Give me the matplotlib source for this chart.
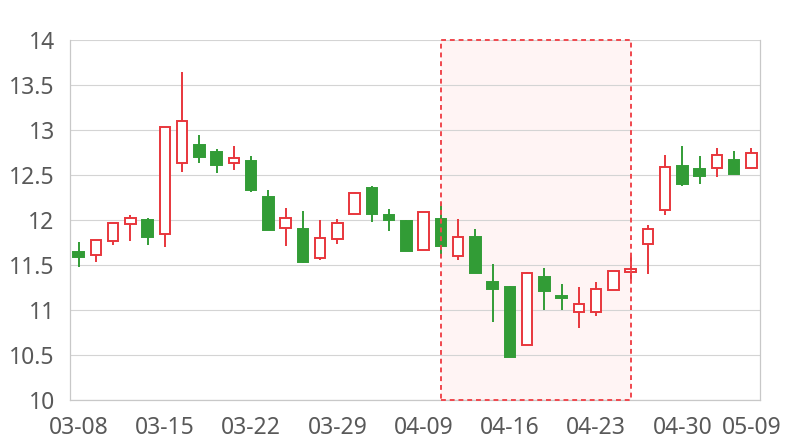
import matplotlib
matplotlib.use("Agg")
import matplotlib.pyplot as plt
import numpy as np
from matplotlib.patches import Rectangle
from matplotlib.ticker import FuncFormatter, MultipleLocator

dates = ["03-08", "03-09", "03-10", "03-11", "03-12",
         "03-15", "03-16", "03-17", "03-18", "03-19",
         "03-22", "03-23", "03-24", "03-25", "03-26",
         "03-29", "03-30", "03-31", "04-01", "04-02",
         "04-09", "04-12", "04-13", "04-14", "04-15",
         "04-16", "04-19", "04-20", "04-21", "04-22",
         "04-23", "04-26", "04-27", "04-28", "04-29",
         "04-30", "05-06", "05-07", "05-08", "05-09"]

open_ = [11.65, 11.61, 11.77, 11.96, 12.00, 11.85, 12.64, 12.84, 12.76, 12.64,
         12.66, 12.26, 11.91, 11.90, 11.58, 11.79, 12.07, 12.36, 12.06, 11.99,
         11.67, 12.01, 11.60, 11.81, 11.31, 11.26, 10.61, 11.37, 11.16, 10.98,
         10.98, 11.23, 11.43, 11.74, 12.11, 12.60, 12.57, 12.58, 12.67, 12.58]
close = [11.59, 11.78, 11.97, 12.03, 11.82, 13.04, 13.10, 12.70, 12.62, 12.69,
         12.34, 11.89, 12.03, 11.54, 11.80, 11.97, 12.30, 12.07, 12.00, 11.66,
         12.09, 11.71, 11.81, 11.42, 11.24, 10.48, 11.42, 11.22, 11.14, 11.07,
         11.24, 11.44, 11.46, 11.90, 12.59, 12.40, 12.49, 12.73, 12.51, 12.75]
low = [11.48, 11.54, 11.73, 11.77, 11.73, 11.70, 12.54, 12.64, 12.53, 12.56,
       12.32, 11.89, 11.72, 11.53, 11.56, 11.74, 12.07, 11.98, 11.88, 11.66,
       11.67, 11.58, 11.56, 11.42, 10.87, 10.48, 10.61, 11.00, 11.00, 10.80,
       10.94, 11.23, 11.34, 11.40, 12.06, 12.38, 12.40, 12.48, 12.51, 12.57]
high = [11.76, 11.78, 11.97, 12.06, 12.03, 13.04, 13.65, 12.95, 12.79, 12.83,
        12.71, 12.34, 12.14, 12.10, 12.00, 12.01, 12.31, 12.38, 12.13, 12.00,
        12.09, 12.19, 12.02, 11.90, 11.51, 11.27, 11.43, 11.47, 11.29, 11.26,
        11.31, 11.44, 11.62, 11.95, 12.73, 12.83, 12.71, 12.80, 12.77, 12.80]

tick_labels = ["03-08", "03-15", "03-22", "03-29", "04-09", "04-16", "04-23", "04-30", "05-09"]
area_start, area_end = "04-12", "04-27"

UP = "#e8363c"
DOWN = "#329c36"
TEXT = "#595959"
GRID = "#d4d4d4"

plt.rcParams['font.family'] = ['Noto Sans', 'DejaVu Sans']

fig = plt.figure(figsize=(8, 4.4), dpi=100)
ax = fig.add_axes([0.0875, 0.0902, 0.8625, 0.8182])

x = np.arange(len(dates))
o = np.array(open_); c = np.array(close); lo = np.array(low); hi = np.array(high)
up = c >= o
colors = np.where(up, UP, DOWN)

# mark area
xa = dates.index(area_start); xb = dates.index(area_end)
ax.add_patch(Rectangle((xa, 10), xb - xa, 4, facecolor="#fff4f4", edgecolor="none", zorder=0.3))
ax.add_patch(Rectangle((xa, 10), xb - xa, 4, facecolor="none", edgecolor="#f0484e",
                       linestyle=(0, (2.5, 2)), linewidth=1.4, zorder=4, clip_on=False))

# wicks
ax.vlines(x, lo, hi, colors=colors, linewidth=1.4, zorder=2)
# bodies
bottoms = np.minimum(o, c)
heights = np.maximum(np.abs(c - o), 0.012)
faces = np.where(up, "white", DOWN)
ax.bar(x, heights, bottom=bottoms, width=0.6, color=faces, edgecolor=colors,
       linewidth=1.4, zorder=3)

ax.set_xlim(-0.5, len(dates) - 0.5)
ax.set_ylim(10, 14)
ax.yaxis.set_major_locator(MultipleLocator(0.5))
ax.yaxis.set_major_formatter(FuncFormatter(lambda v, p: f"{v:g}"))
ax.grid(axis="y", color=GRID, linewidth=0.8, zorder=0.5)
ax.set_axisbelow(True)

ax.set_xticks([dates.index(d) for d in tick_labels])
ax.set_xticklabels(tick_labels)
ax.tick_params(axis="both", length=0, labelsize=16.5, colors=TEXT)
ax.tick_params(axis="x", pad=11)
ax.tick_params(axis="y", pad=11)

for s in ["left", "right", "bottom"]:
    ax.spines[s].set_color("#c8c8c8")
    ax.spines[s].set_linewidth(0.9)
ax.spines["top"].set_visible(False)

fig.savefig("out.png", dpi=100)
